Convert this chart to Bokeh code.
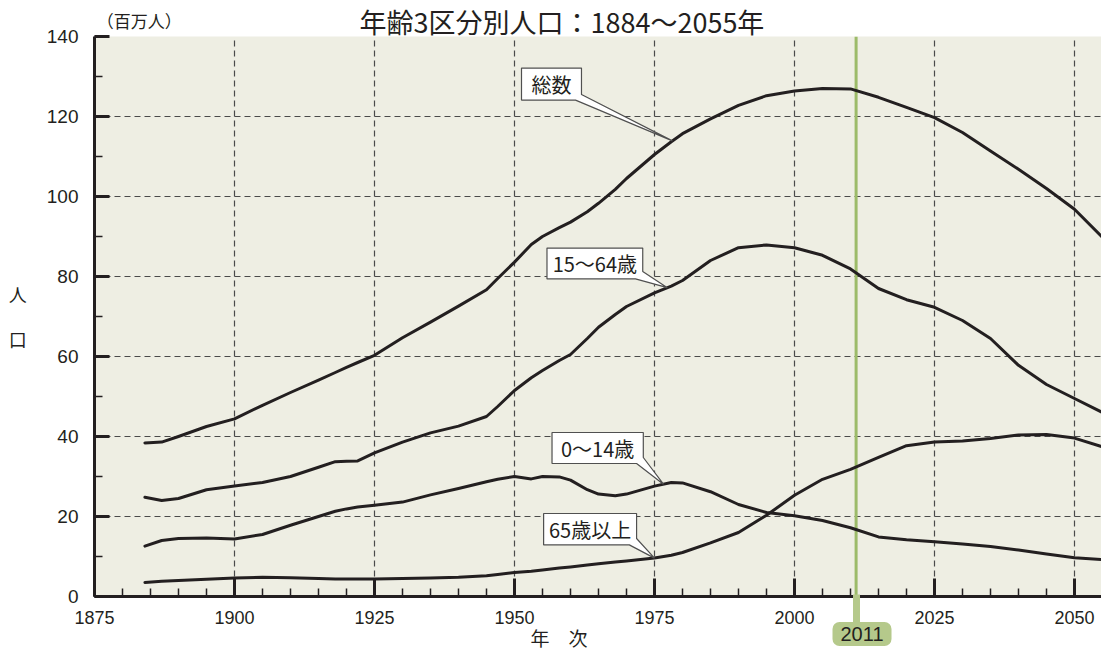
from bokeh.plotting import figure
from bokeh.models import Span, FixedTicker, Range1d, Title, LinearAxis
from bokeh.embed import file_html
from bokeh.resources import INLINE
from bokeh.core.properties import value
import numpy as np

# ---------------- data (millions) ----------------
years = [1884, 1887, 1890, 1895, 1900, 1905, 1910, 1915, 1918, 1920, 1922, 1925,
         1930, 1935, 1940, 1945, 1947, 1950, 1953, 1955, 1958, 1960, 1963, 1965,
         1968, 1970, 1975, 1978, 1980, 1985, 1990, 1995, 2000, 2005, 2010, 2015,
         2020, 2025, 2030, 2035, 2040, 2045, 2050, 2055]

total = [38.4, 38.6, 40.0, 42.5, 44.4, 47.8, 51.0, 54.1, 56.0, 57.3, 58.5, 60.3,
         64.7, 68.6, 72.6, 76.7, 79.5, 83.6, 88.0, 90.0, 92.2, 93.6, 96.2, 98.3,
         101.8, 104.5, 110.5, 113.7, 115.7, 119.4, 122.8, 125.2, 126.4, 127.0, 126.9, 124.8,
         122.3, 119.7, 116.0, 111.4, 106.8, 102.0, 96.8, 89.8]

age15_64 = [24.8, 24.0, 24.5, 26.7, 27.6, 28.5, 30.0, 32.3, 33.7, 33.8, 33.9, 35.9,
            38.6, 40.9, 42.6, 45.0, 47.5, 51.5, 54.7, 56.5, 59.0, 60.5, 64.5, 67.3,
            70.5, 72.5, 75.9, 77.6, 79.0, 84.0, 87.2, 87.9, 87.2, 85.3, 81.9, 77.0,
            74.2, 72.3, 69.0, 64.5, 57.8, 53.0, 49.5, 46.0]

age0_14 = [12.6, 14.0, 14.5, 14.6, 14.4, 15.5, 17.8, 20.0, 21.3, 21.9, 22.4, 22.8,
           23.6, 25.4, 27.0, 28.7, 29.3, 30.0, 29.4, 30.0, 29.9, 29.1, 26.7, 25.6,
           25.2, 25.6, 27.6, 28.5, 28.4, 26.2, 23.0, 21.0, 20.2, 19.0, 17.2, 14.9,
           14.2, 13.7, 13.1, 12.5, 11.6, 10.6, 9.7, 9.2]

age65 = [3.5, 3.8, 4.0, 4.3, 4.6, 4.8, 4.7, 4.5, 4.4, 4.4, 4.4, 4.4,
         4.5, 4.6, 4.8, 5.2, 5.5, 6.0, 6.3, 6.6, 7.1, 7.4, 7.9, 8.2,
         8.6, 8.9, 9.6, 10.3, 11.0, 13.4, 16.0, 20.3, 25.3, 29.3, 31.8, 34.8,
         37.7, 38.6, 38.9, 39.5, 40.4, 40.5, 39.6, 37.4]

x_ticks = [1875, 1900, 1925, 1950, 1975, 2000, 2025, 2050]
x_minor = list(range(1875, 2055, 5))
y_ticks = [0, 20, 40, 60, 80, 100, 120, 140]
y_minor = list(range(0, 141, 10))

title_text = "年齢3区分別人口：1884〜2055年"
unit_text = "（百万人）"
unit_year = 1883
y_label_text = "人\n口"
x_label_text = "年　次"
marker_year = 2011

# callouts: label, box left/right (year), top/bottom (value), wedge base points, tip year, series
callout_labels = ["総数", "15〜64歳", "0〜14歳", "65歳以上"]
callout_left = [1951.25, 1955.8, 1956.7, 1955.2]
callout_right = [1961.96, 1972.9, 1973.0, 1971.8]
callout_top = [132.1, 87.1, 41.0, 20.75]
callout_bottom = [124.1, 79.4, 33.25, 12.9]
callout_side_y = [125.5, 81.25, 34.75, 14.5]
callout_base_x = [1960.9, 1971.6, 1971.8, 1970.5]
callout_tip_year = [1978.2, 1977.3, 1976.6, 1975.0]
callout_series = [total, age15_64, age0_14, age65]

INK = "#231f20"
CJK = "Noto Sans CJK JP"
NUM = "Liberation Sans"
GREEN_LINE = "#9CBB69"
GREEN_BOX = "#B5C98B"

p = figure(width=1101, height=652,
           x_range=Range1d(1875, 1875 + 1007 / 5.6), y_range=Range1d(0, 140),
           output_backend="svg", toolbar_location=None,
           min_border_left=94, min_border_right=0, min_border_top=36, min_border_bottom=56,
           background_fill_color="#EEEEE3", border_fill_color="white",
           outline_line_color=None)

# axes
p.xaxis.ticker = FixedTicker(ticks=x_ticks, minor_ticks=x_minor)
p.yaxis.ticker = FixedTicker(ticks=y_ticks, minor_ticks=y_minor)
for ax in (p.xaxis[0], p.yaxis[0]):
    ax.axis_line_width = 3
    ax.axis_line_color = INK
    ax.major_tick_out = 0
    ax.minor_tick_out = 0
    ax.minor_tick_in = 8
    ax.major_tick_line_width = 3
    ax.major_tick_line_color = INK
    ax.minor_tick_line_width = 1.5
    ax.minor_tick_line_color = INK
    ax.major_label_text_font = NUM
    ax.major_label_text_color = INK
p.xaxis.major_label_text_font_size = "18px"
p.yaxis.major_label_text_font_size = "19px"
p.xaxis.major_tick_in = 18
p.yaxis.major_tick_in = 15
p.xaxis.major_label_standoff = 14
p.yaxis.major_label_standoff = 16

p.yaxis.axis_label = y_label_text
p.yaxis.axis_label_orientation = "horizontal"
p.yaxis.axis_label_standoff = 17
p.yaxis.axis_label_text_font = CJK
p.yaxis.axis_label_text_font_size = "18px"
p.yaxis.axis_label_text_font_style = "normal"
p.yaxis.axis_label_text_color = INK
p.yaxis.axis_label_text_line_height = 1.7

# grid
p.xgrid.ticker = FixedTicker(ticks=x_ticks)
p.ygrid.ticker = FixedTicker(ticks=y_ticks)
for g in (p.xgrid[0], p.ygrid[0]):
    g.grid_line_color = "#4a4a4a"
    g.grid_line_dash = "6 4"
    g.grid_line_width = 1.2

# 2011 marker line
p.add_layout(Span(location=marker_year, dimension="height", line_color=GREEN_LINE,
                  line_width=3, level="underlay"))

# series lines
for s in (total, age15_64, age0_14, age65):
    p.line(years, s, line_color=INK, line_width=3, line_join="round", line_cap="round")

# callout bubbles
xs, ys, cx, cy = [], [], [], []
for i in range(len(callout_labels)):
    L, R, T, B = callout_left[i], callout_right[i], callout_top[i], callout_bottom[i]
    tx = callout_tip_year[i]
    ty = float(np.interp(tx, years, callout_series[i]))
    xs.append([L, R, R, tx, callout_base_x[i], L])
    ys.append([T, T, callout_side_y[i], ty, B, B])
    cx.append((L + R) / 2)
    cy.append((T + B) / 2)
p.patches(xs, ys, fill_color="white", line_color="#505050", line_width=1.2)
p.text(x=cx, y=cy, text=callout_labels, text_font=value(CJK), text_font_size="20px",
       text_color=INK, text_align="center", text_baseline="middle")

# ---- above: unit label (axis tick label) + main title ----
unit_axis = LinearAxis(ticker=FixedTicker(ticks=[unit_year]),
                       major_label_overrides={unit_year: unit_text},
                       axis_line_color=None, major_tick_line_color=None,
                       minor_tick_line_color=None, major_tick_in=0, major_tick_out=0,
                       minor_tick_in=0, minor_tick_out=0, major_label_standoff=4,
                       major_label_text_font=CJK, major_label_text_font_size="17px",
                       major_label_text_color=INK)
p.add_layout(unit_axis, "above")
p.add_layout(Title(text=title_text, align="left", offset=265, standoff=-72,
                   vertical_align="bottom", text_font=CJK, text_font_size="27px",
                   text_font_style="normal", text_color=INK), "above")

# ---- below: pointer tick, 2011 tag, axis title ----
pointer_axis = LinearAxis(ticker=FixedTicker(ticks=[marker_year]),
                          major_label_overrides={marker_year: ""},
                          axis_line_color=None, major_tick_in=32, major_tick_out=0,
                          major_tick_line_color=GREEN_BOX, major_tick_line_width=7,
                          minor_tick_line_color=None, minor_tick_in=0, minor_tick_out=0,
                          major_label_standoff=0, major_label_text_font_size="1px")
p.add_layout(pointer_axis, "below")
p.add_layout(Title(text=str(marker_year), align="left", offset=738, standoff=-9,
                   vertical_align="top", text_font=NUM, text_font_size="20px",
                   text_font_style="normal", text_color=INK,
                   background_fill_color=GREEN_BOX, background_fill_alpha=1.0,
                   border_radius=7, padding=(8, 5)), "below")
p.add_layout(Title(text=x_label_text, align="left", offset=436, standoff=-40,
                   vertical_align="top", text_font=CJK, text_font_size="19px",
                   text_font_style="normal", text_color=INK), "below")

open("out.html", "w").write(file_html(p, INLINE))
